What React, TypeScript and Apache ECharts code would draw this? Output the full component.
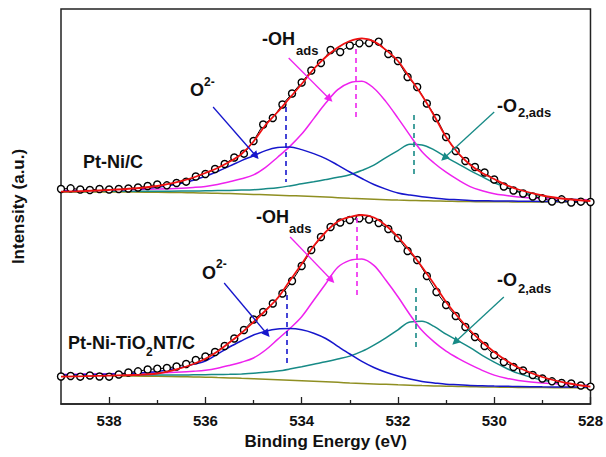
import React, { useEffect, useRef } from "react";
import * as echarts from "echarts";

const FONT = "'Liberation Sans', Arial, Helvetica, sans-serif";

// Binding-energy grid (eV) for the fitted curves
const energies = [539, 538.5, 538, 537.5, 537, 536.5, 536.25, 536, 535.75, 535.5, 535.25, 535, 534.75, 534.5, 534.25, 534, 533.75, 533.5, 533.25, 533, 532.75, 532.5, 532.25, 532, 531.75, 531.5, 531.25, 531, 530.75, 530.5, 530.25, 530, 529.75, 529.5, 529, 528.5, 528];

// Pt-Ni/C (upper, offset spectrum)
const bgTop = [212, 212, 212, 211.9, 211.7, 211.4, 211.2, 211, 210.7, 210.4, 210, 209.6, 209.2, 208.8, 208.35, 207.9, 207.4, 206.9, 206.35, 205.8, 205.3, 204.8, 204.35, 203.9, 203.6, 203.3, 203.05, 202.8, 202.6, 202.4, 202.3, 202.2, 202.15, 202.1, 202, 202, 202];
const o2Top = [213.1, 213.4, 213.9, 214.8, 216.7, 220.7, 223.8, 227.7, 232.5, 237.9, 243.4, 248.3, 253.4, 256.4, 256.9, 254.4, 250.4, 245.4, 238.9, 232, 225.5, 219.5, 214.9, 211.1, 208.9, 207.2, 205.9, 204.8, 204.2, 203.6, 203.3, 203.1, 203, 202.8, 202.6, 202.5, 202.4];
const ohTop = [213.5, 213.8, 214.1, 214.5, 214.9, 215.7, 216.5, 217.6, 219.5, 222.2, 225.2, 229.1, 236.7, 246.8, 257.4, 269.9, 285.4, 300.9, 314.4, 321.3, 322.8, 315.8, 302.4, 285.9, 268.6, 252.3, 241, 231.8, 224.1, 217.4, 213.3, 210.2, 208.5, 207.1, 205.5, 204.7, 204.2];
const o2adsTop = [212.5, 212.6, 212.7, 212.8, 212.8, 212.9, 213, 213.2, 213.4, 213.6, 213.9, 214.3, 215.2, 216.3, 218.1, 220.2, 222.2, 224.4, 226.7, 229.3, 233.6, 238.8, 246.4, 253.4, 259.8, 259.1, 254.1, 246.8, 240.1, 233.4, 227.3, 221.2, 216.7, 212.6, 207.5, 205, 203.8];
const fitTop = [212.3, 213, 214, 215.5, 218, 223, 226.5, 231, 236, 242.2, 250, 262.5, 279, 292, 306, 320, 335, 347, 356.5, 363, 365.7, 362.6, 354, 343, 326, 308.5, 288.5, 267, 251, 239.3, 231, 225, 219, 214.5, 208.5, 205, 203];

// Pt-Ni-TiO2NT/C (lower spectrum)
const bgBot = [28, 28, 28, 27.9, 27.7, 27.3, 27.05, 26.8, 26.45, 26.1, 25.7, 25.3, 24.8, 24.3, 23.8, 23.3, 22.75, 22.2, 21.65, 21.1, 20.6, 20.1, 19.65, 19.2, 18.8, 18.4, 18.1, 17.8, 17.55, 17.3, 17.1, 16.9, 16.75, 16.6, 16.4, 16.3, 16.2];
const o2Bot = [29, 29.4, 29.9, 30.8, 32.6, 36.5, 39.6, 43, 50, 57, 63.2, 69, 72.8, 75, 75.4, 74.2, 70.8, 65.5, 57.7, 50, 42.6, 36.5, 31.7, 28, 25, 22.5, 21.1, 19.8, 19.2, 18.5, 18.2, 17.9, 17.7, 17.5, 17.2, 17, 16.8];
const ohBot = [29.6, 29.9, 30.2, 30.7, 31.1, 31.9, 32.7, 33.8, 35.8, 38.6, 41.8, 46, 54, 64.6, 75.3, 87.3, 103.8, 120.2, 136.7, 143.6, 145.1, 138.6, 123.7, 107.2, 89.3, 73.4, 62.1, 52.8, 45.6, 39.3, 33.6, 28.9, 25.8, 23.6, 20.9, 19.6, 18.8];
const o2adsBot = [28.6, 28.7, 28.8, 28.9, 29, 29, 29.2, 29.3, 29.5, 29.7, 30.1, 30.7, 31.7, 32.9, 34.9, 37.3, 39.8, 42.2, 44.9, 47.9, 52.6, 58.9, 66.2, 74.2, 82.1, 82.7, 77.6, 69.8, 63.1, 56.3, 48.6, 41.9, 35.8, 30.6, 23.9, 20.3, 18.6];
const fitBot = [27.3, 27.8, 28.4, 29, 30.5, 36, 40, 45.2, 52.5, 61.5, 71, 82, 93.5, 106, 123, 140, 158, 172, 182.5, 187, 189, 186.5, 178.5, 167, 153, 137, 120, 102, 87, 73.5, 62, 52, 43.5, 36.5, 27, 21, 17.3];

// Measured data points (0.2 eV step)
const dataEnergies = [539, 538.8, 538.6, 538.4, 538.2, 538, 537.8, 537.6, 537.4, 537.2, 537, 536.8, 536.6, 536.4, 536.2, 536, 535.8, 535.6, 535.4, 535.2, 535, 534.8, 534.6, 534.4, 534.2, 534, 533.8, 533.6, 533.4, 533.2, 533, 532.8, 532.6, 532.4, 532.2, 532, 531.8, 531.6, 531.4, 531.2, 531, 530.8, 530.6, 530.4, 530.2, 530, 529.8, 529.6, 529.4, 529.2, 529, 528.8, 528.6, 528.4, 528.2, 528];
const dataTop = [215, 215.7, 214.5, 214, 215, 214.5, 215, 215.5, 216.5, 218, 219.5, 218.7, 221, 222.3, 227.5, 230, 235, 240, 246.5, 250.3, 263, 279.5, 286, 299.5, 310.5, 321.5, 333.5, 341, 354, 352, 358.5, 360.7, 361, 362.3, 350, 343, 327, 317, 300.5, 286, 267, 253, 243, 237, 231.5, 224.5, 217.5, 213.5, 210.5, 207.5, 205.7, 202.5, 204.7, 201.5, 202.3, 202];
const dataBot = [27.5, 28, 27.3, 28.5, 27.5, 27.3, 29.5, 31.5, 32.7, 34.5, 35.3, 36, 37.5, 40, 44, 47.5, 52, 58, 65.5, 74, 84.5, 92, 100.5, 110.5, 123, 138, 154, 167, 177, 181.5, 184, 185.7, 184.5, 181, 175, 166, 153, 144, 128, 112, 99, 88, 77, 67, 58, 49, 42, 37, 33.5, 29, 25.5, 22.7, 21, 20.5, 18.5, 17.3];

// Axis ticks
const majorTicks = [538, 536, 534, 532, 530, 528];
const minorTicks = [537, 535, 533, 531, 529];

// Peak-position markers [energy, from, to] in order O2-, -OH, -O2
const peakMarksTop = [[534.33, 297, 222], [532.87, 355, 287], [531.68, 289, 229]];
const peakMarksBot = [[534.31, 109, 37], [532.86, 186, 107], [531.64, 116, 55]];

// Label arrows [fromE, fromI, toE, toI]
const arrowsTop = [[535.84, 297, 534.95, 248], [534.27, 346, 533.42, 305], [530.0, 292, 531.04, 246]];
const arrowsBot = [[535.61, 121, 534.72, 70], [534.24, 167, 533.38, 124], [529.8, 107, 530.81, 62]];

const C_BLUE = "#1616cc";
const C_MAG = "#ee22ee";
const C_TEAL = "#178a86";
const C_OLIVE = "#8f8f22";
const C_RED = "#ee1111";
const markColors = [C_BLUE, C_MAG, C_TEAL];

const pair = (xs: number[], ys: number[]) => xs.map((x, i) => [x, ys[i]]);

function txt(text: string, x: number, y: number, size: number) {
  return {
    type: "text",
    x,
    y,
    silent: true,
    style: {
      text,
      font: `bold ${size}px ${FONT}`,
      fill: "#111",
      textAlign: "left",
      textVerticalAlign: "middle",
      align: "left",
      verticalAlign: "middle",
    },
  };
}

export default function App() {
  const ref = useRef<HTMLDivElement>(null);
  useEffect(() => {
    const chart = echarts.init(ref.current!, null, { renderer: "svg" });
    const comp = (ys: number[], color: string, z: number, width = 1.5) => ({
      type: "line",
      data: pair(energies, ys),
      smooth: 0.35,
      symbol: "none",
      silent: true,
      z,
      lineStyle: { color, width },
    });
    const dataSeries = (ys: number[]) => ({
      type: "line",
      data: pair(dataEnergies, ys),
      symbol: "circle",
      symbolSize: 7,
      showSymbol: true,
      silent: true,
      z: 5,
      itemStyle: { color: "#fff", borderColor: "#000", borderWidth: 1.4 },
      lineStyle: { color: "#000", width: 1 },
    });
    const marks = (m: number[][]) =>
      m.map((p, i) => ({ coords: [[p[0], p[1]], [p[0], p[2]]], lineStyle: { color: markColors[i] } }));
    const arrows = (a: number[][]) =>
      a.map((p, i) => ({ coords: [[p[0], p[1]], [p[2], p[3]]], lineStyle: { color: markColors[i] } }));

    const option = {
      animation: false,
      grid: { left: 61, right: 13, top: 9, bottom: 53, show: true, borderColor: "#222", borderWidth: 1.5 },
      xAxis: [
        {
          type: "value",
          min: 528,
          max: 539,
          inverse: true,
          position: "bottom",
          name: "Binding Energy (eV)",
          nameLocation: "middle",
          nameGap: 29,
          nameTextStyle: { fontFamily: FONT, fontSize: 17, fontWeight: "bold", color: "#111" },
          axisLine: { show: true, onZero: false, lineStyle: { color: "#222", width: 1.5 } },
          axisTick: { show: true, inside: true, length: 7, customValues: majorTicks, lineStyle: { color: "#222", width: 1.3 } },
          axisLabel: { show: true, customValues: majorTicks, margin: 9, fontFamily: FONT, fontSize: 15, fontWeight: "bold", color: "#111" },
          splitLine: { show: false },
        },
        {
          type: "value",
          min: 528,
          max: 539,
          inverse: true,
          position: "bottom",
          axisLine: { show: false },
          axisTick: { show: true, inside: true, length: 4, customValues: minorTicks, lineStyle: { color: "#222", width: 1.3 } },
          axisLabel: { show: false },
          splitLine: { show: false },
        },
      ],
      yAxis: {
        type: "value",
        min: 0,
        max: 395,
        name: "Intensity (a.u.)",
        nameLocation: "middle",
        nameGap: 34,
        nameTextStyle: { fontFamily: FONT, fontSize: 17, fontWeight: "bold", color: "#111" },
        axisLine: { show: false },
        axisTick: { show: false },
        axisLabel: { show: false },
        splitLine: { show: false },
      },
      series: [
        comp(bgTop, C_OLIVE, 1),
        comp(o2adsTop, C_TEAL, 2),
        comp(ohTop, C_MAG, 3),
        comp(o2Top, C_BLUE, 4),
        dataSeries(dataTop),
        comp(fitTop, C_RED, 6, 1.8),
        comp(bgBot, C_OLIVE, 1),
        comp(o2adsBot, C_TEAL, 2),
        comp(ohBot, C_MAG, 3),
        comp(o2Bot, C_BLUE, 4),
        dataSeries(dataBot),
        comp(fitBot, C_RED, 6, 1.8),
        {
          type: "lines",
          coordinateSystem: "cartesian2d",
          silent: true,
          z: 7,
          symbol: "none",
          lineStyle: { width: 1.6, type: [5, 4], opacity: 1 },
          data: [...marks(peakMarksTop), ...marks(peakMarksBot)],
        },
        {
          type: "lines",
          coordinateSystem: "cartesian2d",
          silent: true,
          z: 8,
          symbol: ["none", "triangle"],
          symbolSize: 8,
          lineStyle: { width: 1.3, opacity: 1 },
          data: [...arrows(arrowsTop), ...arrows(arrowsBot)],
        },
      ],
      graphic: [
        txt("-OH", 262, 39, 18),
        txt("ads", 296, 50, 13),
        txt("O", 190, 90, 18),
        txt("2-", 204, 82, 12),
        txt("-O", 497, 106, 18),
        txt("2,ads", 518, 112, 13),
        txt("Pt-Ni/C", 83, 162, 18),
        txt("-OH", 256, 217, 18),
        txt("ads", 289, 228, 13),
        txt("O", 202, 273, 18),
        txt("2-", 216, 264, 12),
        txt("-O", 497, 280, 18),
        txt("2,ads", 518, 288, 13),
        txt("Pt-Ni-TiO", 68, 343, 18),
        txt("2", 146, 352, 12),
        txt("NT/C", 153, 343, 18),
      ],
    };
    chart.setOption(option as any);
    return () => chart.dispose();
  }, []);
  return <div ref={ref} style={{ position: "fixed", left: 0, top: 0, width: 606, height: 457, background: "#fff" }} />;
}
